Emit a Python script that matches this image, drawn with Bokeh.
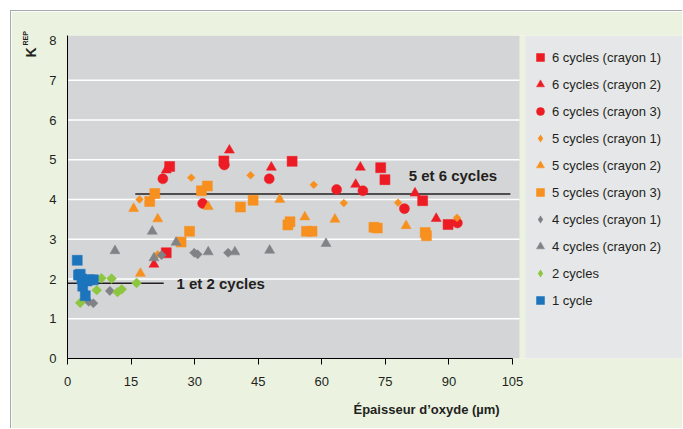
from math import pi
from bokeh.plotting import figure
from bokeh.models import Legend, LegendItem, Label, FixedTicker, Range1d, BoxAnnotation, Title
from bokeh.embed import file_html
from bokeh.resources import INLINE

# ---------------- data ----------------
c6_r1_x = [23.3, 24.1, 36.9, 53.0, 73.9, 74.9, 83.8, 89.8]
c6_r1_y = [2.66, 4.83, 4.97, 4.96, 4.80, 4.50, 3.97, 3.37]
c6_r2_x = [20.4, 23.3, 38.2, 48.1, 68.0, 69.1, 82.0, 87.0]
c6_r2_y = [2.37, 4.74, 5.24, 4.81, 4.38, 4.81, 4.16, 3.52]
c6_r3_x = [22.5, 31.9, 37.0, 47.6, 63.5, 69.7, 79.5, 92.0]
c6_r3_y = [4.52, 3.90, 4.87, 4.52, 4.25, 4.22, 3.77, 3.41]
c5_r1_x = [17.0, 21.3, 29.2, 43.2, 58.1, 65.2, 78.0, 91.9]
c5_r1_y = [4.00, 2.62, 4.55, 4.61, 4.37, 3.91, 3.92, 3.54]
c5_r2_x = [15.6, 17.2, 21.3, 33.2, 50.1, 56.0, 63.1, 79.9]
c5_r2_y = [3.77, 2.14, 3.51, 3.82, 4.00, 3.56, 3.50, 3.34]
c5_r3_x = [19.4, 20.6, 26.8, 28.8, 31.6, 33.0, 40.8, 43.8, 52.0, 52.5, 56.4, 57.7, 72.3, 73.1, 84.4, 84.7]
c5_r3_y = [3.95, 4.15, 2.93, 3.20, 4.22, 4.34, 3.81, 3.98, 3.36, 3.44, 3.20, 3.20, 3.30, 3.28, 3.17, 3.09]
c4_r1_x = [5.0, 6.1, 10.0, 22.2, 29.9, 30.7, 37.9]
c4_r1_y = [1.43, 1.39, 1.70, 2.60, 2.66, 2.62, 2.66]
c4_r2_x = [11.2, 20.0, 20.4, 25.6, 33.2, 39.5, 47.7, 61.0]
c4_r2_y = [2.71, 3.20, 2.53, 2.92, 2.68, 2.68, 2.72, 2.89]
c2_x = [3.0, 6.9, 8.0, 10.4, 11.8, 12.8, 16.3]
c2_y = [1.40, 1.72, 2.02, 2.01, 1.67, 1.74, 1.90]
c1_x = [2.3, 2.6, 3.0, 3.4, 3.6, 4.2, 4.6, 5.2, 6.1]
c1_y = [2.47, 2.10, 2.12, 2.00, 1.82, 1.58, 1.95, 1.98, 1.98]

series_labels = ["6 cycles (crayon 1)", "6 cycles (crayon 2)", "6 cycles (crayon 3)",
                 "5 cycles (crayon 1)", "5 cycles (crayon 2)", "5 cycles (crayon 3)",
                 "4 cycles (crayon 1)", "4 cycles (crayon 2)", "2 cycles", "1 cycle"]

# reference levels (mean lines)
level_56 = 4.14
level_56_x = [16.0, 104.5]
level_12 = 1.89
level_12_x = [0.0, 22.7]
label_56 = "5 et 6 cycles"
label_12 = "1 et 2 cycles"

x_ticks = [0, 15, 30, 45, 60, 75, 90, 105]
y_ticks = [0, 1, 2, 3, 4, 5, 6, 7, 8]
grid_y = [1, 2, 3, 4, 5, 6, 7]

x_title = "Épaisseur d’oxyde (µm)"
y_title_main = "K"
y_title_sup = "REP"

# ---------------- style ----------------
RED = "#ED1C24"
ORANGE = "#F7901E"
GREY = "#808285"
GREEN = "#8DC63F"
BLUE = "#1C75BC"
BG = "#EBF3E0"
PLOT_BG = "#D4D5D7"
LEG_BG = "#E6E7E8"
INK = "#231F20"
FONT = "Liberation Sans"

X_END = 145.35
Y_END = 8.126
PLOT_RIGHT = 106.65
LEG_LEFT = 108.07

p = figure(width=672, height=418, output_backend="svg", toolbar_location=None,
           x_range=Range1d(0, X_END), y_range=Range1d(0, Y_END),
           min_border_left=56, min_border_right=0, min_border_top=24, min_border_bottom=71)
p.styles = {"margin-left": "10px", "margin-top": "10px",
            "border-left": "1px solid #A7A9AC", "border-top": "1px solid #A7A9AC"}
p.background_fill_color = BG
p.border_fill_color = BG
p.outline_line_color = None
p.xgrid.grid_line_color = None
p.ygrid.grid_line_color = None

p.add_layout(BoxAnnotation(right=PLOT_RIGHT, fill_color=PLOT_BG, fill_alpha=1, line_color=None, level="image"))
p.add_layout(BoxAnnotation(left=LEG_LEFT, fill_color=LEG_BG, fill_alpha=1, line_color=None, level="image"))

p.segment(x0=0, x1=PLOT_RIGHT, y0=grid_y, y1=grid_y, line_color="white", line_width=1.5)

# axes
xa = p.xaxis[0]
xa.ticker = FixedTicker(ticks=x_ticks)
xa.bounds = (0, 105)
xa.axis_line_color = "black"
xa.major_tick_line_color = "black"
xa.major_tick_out = 6
xa.major_tick_in = 0
xa.minor_tick_line_color = None
xa.major_label_standoff = 12
xa.major_label_text_font = FONT
xa.major_label_text_font_size = "13px"
xa.major_label_text_color = INK

ya = p.yaxis[0]
ya.ticker = FixedTicker(ticks=y_ticks)
ya.axis_line_color = "black"
ya.major_tick_line_color = None
ya.major_tick_out = 0
ya.major_tick_in = 0
ya.minor_tick_line_color = None
ya.major_label_standoff = 11
ya.major_label_text_font = FONT
ya.major_label_text_font_size = "13px"
ya.major_label_text_color = INK

# reference lines
p.line(x=level_56_x, y=[level_56, level_56], line_color=INK, line_width=1.5)
p.line(x=level_12_x, y=[level_12, level_12], line_color=INK, line_width=1.5)

# scatter series: (x, y, marker, colour, size, angle, legend marker)
specs = [
    (c6_r1_x, c6_r1_y, "square", RED, 10, 0, None),
    (c6_r2_x, c6_r2_y, "triangle", RED, 10, 0, None),
    (c6_r3_x, c6_r3_y, "circle", RED, 10, 0, None),
    (c5_r1_x, c5_r1_y, "square", ORANGE, 5.5, pi / 4, "diamond"),
    (c5_r2_x, c5_r2_y, "triangle", ORANGE, 10, 0, None),
    (c5_r3_x, c5_r3_y, "square", ORANGE, 10, 0, None),
    (c4_r1_x, c4_r1_y, "square", GREY, 6.5, pi / 4, "diamond"),
    (c4_r2_x, c4_r2_y, "triangle", GREY, 10, 0, None),
    (c2_x, c2_y, "square", GREEN, 7, pi / 4, "diamond"),
    (c1_x, c1_y, "square", BLUE, 10, 0, None),
]
items = []
for (xs, ys, mk, col, sz, ang, leg_mk), lab in zip(specs, series_labels):
    r = p.scatter(x=xs, y=ys, marker=mk, size=sz, angle=ang, fill_color=col, line_color=col, line_width=0.5)
    if leg_mk is None:
        items.append(LegendItem(label=lab, renderers=[r]))
    else:
        # legend-only look-alike: same points, zero size on the plot
        proxy = p.scatter(x=xs, y=ys, marker=leg_mk, size=0, fill_color=col, line_color=None)
        items.append(LegendItem(label=lab, renderers=[proxy]))

legend = Legend(items=items, location=(463, 48), orientation="vertical",
                glyph_width=20, glyph_height=20, label_height=20, spacing=7,
                padding=0, margin=0, label_standoff=2,
                background_fill_alpha=0, border_line_color=None,
                label_text_font=FONT, label_text_font_size="13px", label_text_color=INK)
p.add_layout(legend)

# texts
p.add_layout(Label(x=80.5, y=4.60, text=label_56, text_font=FONT, text_font_size="15px",
                   text_font_style="bold", text_color=INK, text_baseline="middle", text_align="left"))
p.add_layout(Label(x=25.7, y=level_12, text=label_12, text_font=FONT, text_font_size="15px",
                   text_font_style="bold", text_color=INK, text_baseline="middle", text_align="left"))

p.add_layout(Title(text=x_title, align="left", offset=286, standoff=22,
                   text_font=FONT, text_font_size="13px", text_font_style="bold", text_color=INK), "below")
# y title: K with superscript REP (two side titles)
p.add_layout(Title(text=y_title_main, align="left", offset=301, standoff=16,
                   text_font=FONT, text_font_size="14px", text_font_style="bold", text_color=INK), "left")
p.add_layout(Title(text=y_title_sup, align="left", offset=313, standoff=-33,
                   text_font=FONT, text_font_size="7px", text_font_style="bold", text_color=INK), "left")

open("out.html", "w").write(file_html(p, INLINE))
